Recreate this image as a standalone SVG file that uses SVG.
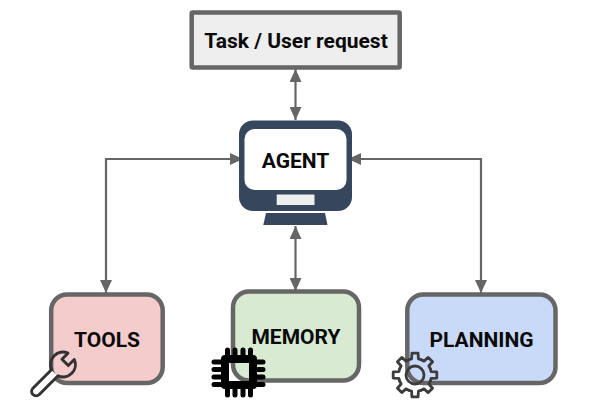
<svg xmlns="http://www.w3.org/2000/svg" xmlns:xlink="http://www.w3.org/1999/xlink" width="597" height="416" viewBox="0 0 597 416">
<style>
.box{stroke:#666;stroke-width:4.5}
.lbl{font-family:Roboto,"Liberation Sans",sans-serif;font-weight:700;font-size:21px;fill:#0a0a0a;text-anchor:middle}
.conn{fill:none;stroke:#666;stroke-width:2.2;marker-start:url(#ah);marker-end:url(#ah)}
.pin{stroke:#000;stroke-width:5;stroke-linecap:round;fill:none}
</style>
<defs>
<marker id="ah" markerUnits="userSpaceOnUse" markerWidth="14" markerHeight="12" refX="13" refY="6" orient="auto-start-reverse"><path d="M0 0L13 6L0 12Z" fill="#666"/></marker>
<path id="tooth" d="M-6.31-15.24L-3.43-16.14L-3.06-21.8L3.06-21.8L3.43-16.14L6.31-15.24" fill="none" stroke="#3c3c3c" stroke-width="2.800" stroke-linejoin="round" stroke-linecap="round"/>
</defs>
<rect width="597" height="416" fill="#fff"/>
<g id="connectors">
<path class="conn" d="M295.5 69V120"/>
<path class="conn" d="M243 159H106V293"/>
<path class="conn" d="M348 159H481V293"/>
<path class="conn" d="M295.5 226V291"/>
</g>
<g id="task">
<rect class="box" x="191.700" y="12.500" width="208" height="55" rx="1" fill="#eee"/>
<text class="lbl" x="296" y="47.500">Task / User request</text>
</g>
<g id="agent">
<rect x="239" y="120.500" width="113" height="90.500" rx="14" fill="#36465d"/>
<rect x="244.500" y="129" width="102" height="61" rx="10" fill="#fff"/>
<rect x="276.700" y="194.500" width="37.800" height="10.500" fill="#eee"/>
<path d="M266 213H325L327.500 225H263.300Z" fill="#36465d"/>
<text class="lbl" x="295.500" y="167.500">AGENT</text>
</g>
<g id="tools">
<rect class="box" x="51.200" y="294.500" width="111.500" height="88.500" rx="16" fill="#f4cccc"/>
<text class="lbl" x="107" y="346.500">TOOLS</text>
<g transform="translate(63 364.500) rotate(45)">
<path d="M-4.500 12.200L-4.500 38A4.500 4.500 0 0 0 4.500 38L4.500 12.200Z" fill="#fff"/>
<path d="M4.500-11.500L4.500-3L-4.500-3L-4.500-11.500A12.300 12.300 0 0 0-4.500 11.500L-4.500 38A4.500 4.500 0 0 0 4.500 38L4.500 11.500A12.300 12.300 0 0 0 4.500-11.500Z" fill="none" stroke="#333" stroke-width="3" stroke-linejoin="round"/>
</g>
</g>
<g id="memory">
<rect class="box" x="233" y="291.500" width="126" height="89" rx="16" fill="#d9ead3"/>
<text class="lbl" x="296" y="344">MEMORY</text>
<rect x="225" y="359" width="28" height="26" fill="none" stroke="#000" stroke-width="8" stroke-linejoin="round"/>
<path class="pin" d="M227.500 350V357M235 350V357M243 350V357M250.500 350V357M227.500 388V395M235 388V395M243 388V395M250.500 388V395M214 362H222M214 369.500H222M214 377H222M214 384.500H222M256 362H263M256 369.500H263M256 377H263M256 384.500H263"/>
</g>
<g id="planning">
<rect class="box" x="407.300" y="294.500" width="148.200" height="88.500" rx="16" fill="#c9daf8"/>
<text class="lbl" x="481.500" y="346.500">PLANNING</text>
<g transform="translate(415 375)">
<use xlink:href="#tooth"/>
<use xlink:href="#tooth" transform="rotate(45)"/>
<use xlink:href="#tooth" transform="rotate(90)"/>
<use xlink:href="#tooth" transform="rotate(135)"/>
<use xlink:href="#tooth" transform="rotate(180)"/>
<use xlink:href="#tooth" transform="rotate(225)"/>
<use xlink:href="#tooth" transform="rotate(270)"/>
<use xlink:href="#tooth" transform="rotate(315)"/>
<circle r="9" fill="none" stroke="#3c3c3c" stroke-width="2.800"/>
</g>
</g>
</svg>
